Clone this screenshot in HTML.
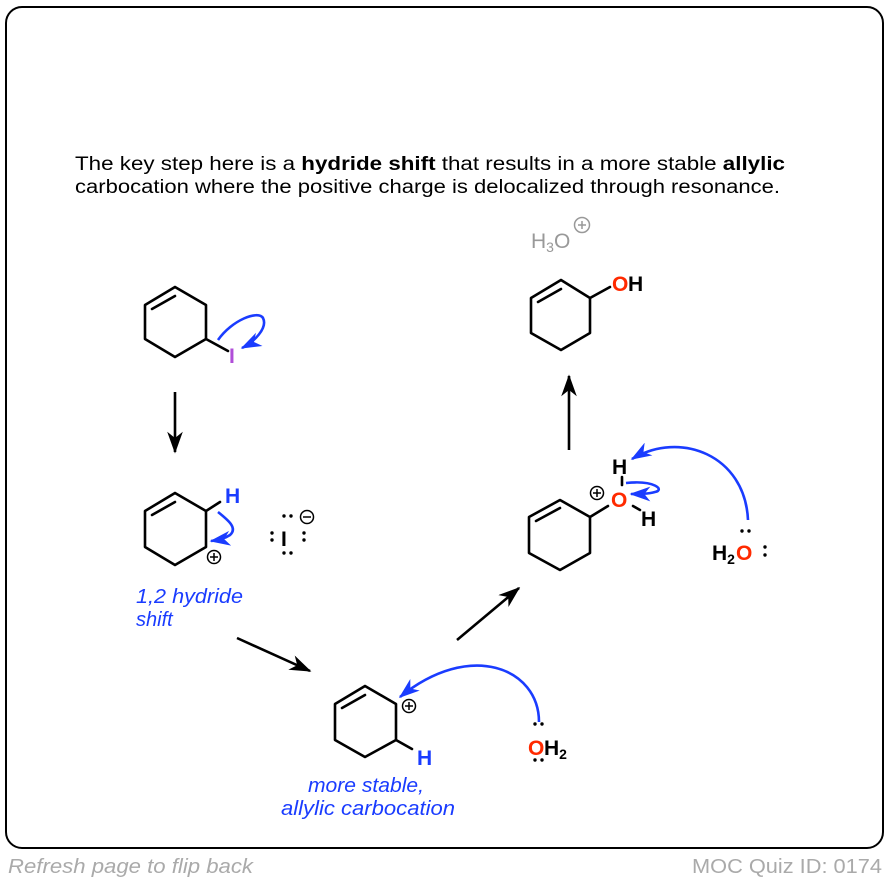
<!DOCTYPE html>
<html><head><meta charset="utf-8"><style>
html,body{margin:0;padding:0;background:#fff;}
svg{display:block;font-family:"Liberation Sans",Arial,sans-serif;}
</style></head><body>
<svg width="890" height="882" viewBox="0 0 890 882" xmlns="http://www.w3.org/2000/svg">
<defs>
<marker id="ah" viewBox="0 0 14 10" refX="13" refY="5" markerWidth="8.5" markerHeight="6" orient="auto" markerUnits="strokeWidth"><path d="M0,0 L14,5 L0,10 L4,5z" fill="#000"/></marker>
<marker id="bh" viewBox="0 0 14 10" refX="13" refY="5" markerWidth="8" markerHeight="5.8" orient="auto" markerUnits="strokeWidth"><path d="M0,0 L14,5 L0,10 L4,5z" fill="#1a3cff"/></marker>
</defs>
<rect x="6" y="7" width="877" height="841" rx="16" fill="none" stroke="#000" stroke-width="2"/>
<g font-size="19" fill="#000">
<text x="75" y="170" textLength="710" lengthAdjust="spacingAndGlyphs">The key step here is a <tspan font-weight="bold">hydride shift</tspan> that results in a more stable <tspan font-weight="bold">allylic</tspan></text>
<text x="75" y="193" textLength="705" lengthAdjust="spacingAndGlyphs">carbocation where the positive charge is delocalized through resonance.</text>
</g>
<g stroke="#000" stroke-width="2.6" fill="none" stroke-linejoin="round" stroke-linecap="round">
<path d="M175,287 L206,305 L206,339 L175,357 L145,339 L145,305 Z"/>
<path d="M152,309 L175,296"/>
<path d="M206,339 L228,351"/>
<path d="M175,493 L206,511 L206,547 L175,565 L145,547 L145,511 Z"/>
<path d="M152,515 L175,502"/>
<path d="M206,511 L220,502"/>
<path d="M365,686 L396,704 L396,740 L365,757 L335,740 L335,704 Z"/>
<path d="M342,708 L365,695"/>
<path d="M396,740 L412,749"/>
<path d="M560,500 L590,517 L590,553 L560,570 L529,553 L529,517 Z"/>
<path d="M536,521 L560,508"/>
<path d="M590,517 L608,506"/>
<path d="M622,477 L622,485"/>
<path d="M633,506 L640,510"/>
<path d="M561,280 L590,298 L590,333 L561,350 L531,333 L531,298 Z"/>
<path d="M538,302 L561,289"/>
<path d="M590,298 L610,287"/>
</g>
<g stroke="#000" stroke-width="2.6" fill="none">
<line x1="175" y1="392" x2="175" y2="452" marker-end="url(#ah)"/>
<line x1="237" y1="638" x2="310" y2="671" marker-end="url(#ah)"/>
<line x1="457" y1="640" x2="519" y2="588" marker-end="url(#ah)"/>
<line x1="569" y1="450" x2="569" y2="376" marker-end="url(#ah)"/>
</g>
<g stroke="#1a3cff" stroke-width="2.6" fill="none">
<path d="M218,340 C232,320 258,310 263,318 C268,328 254,342 242,348" marker-end="url(#bh)"/>
<path d="M218,512 C228,520 238,528 230,535 C224,539 218,540 211,541" marker-end="url(#bh)"/>
<path d="M539,722 C539,668 470,640 400,697" marker-end="url(#bh)"/>
<path d="M748,520 C745,455 680,430 632,459" marker-end="url(#bh)"/>
<path d="M626,483 C655,480 665,490 655,492 C648,494 640,494 631,494" marker-end="url(#bh)"/>
</g>
<g font-weight="bold" font-size="21">
<text x="229" y="363" fill="#b04ed8">I</text>
<text x="225" y="503" fill="#1a3cff">H</text>
<text x="281" y="546" fill="#000">I</text>
<text x="417" y="765" fill="#1a3cff">H</text>
<text x="528" y="755" fill="#ff2a00">O</text><text x="544" y="755" fill="#000">H<tspan font-size="14" dy="4">2</tspan></text>
<text x="612" y="474" fill="#000">H</text>
<text x="611" y="507" fill="#ff2a00">O</text>
<text x="641" y="526" fill="#000">H</text>
<text x="712" y="560" fill="#000">H<tspan font-size="14" dy="4">2</tspan></text>
<text x="736" y="560" fill="#ff2a00">O</text>
<text x="612" y="291" fill="#ff2a00">O</text><text x="628" y="291" fill="#000">H</text>
</g>
<text x="531" y="248" font-size="21" fill="#999">H<tspan font-size="14" dy="4">3</tspan><tspan dy="-4">O</tspan></text>
<g fill="#000">
<circle cx="272" cy="533" r="1.7"/><circle cx="272" cy="540" r="1.7"/>
<circle cx="304" cy="533" r="1.7"/><circle cx="304" cy="540" r="1.7"/>
<circle cx="284" cy="516" r="1.7"/><circle cx="291" cy="516" r="1.7"/>
<circle cx="284" cy="553" r="1.7"/><circle cx="291" cy="553" r="1.7"/>
<circle cx="535" cy="724" r="1.7"/><circle cx="542" cy="724" r="1.7"/>
<circle cx="535" cy="760" r="1.7"/><circle cx="542" cy="760" r="1.7"/>
<circle cx="742" cy="531" r="1.7"/><circle cx="749" cy="531" r="1.7"/>
<circle cx="765" cy="547" r="1.7"/><circle cx="765" cy="555" r="1.7"/>
</g>
<g fill="none" stroke="#000" stroke-width="1.5">
<circle cx="214" cy="557" r="6.5"/><path d="M210,557h8M214,553v8"/>
<circle cx="307" cy="517" r="6.5"/><path d="M303,517h8"/>
<circle cx="409" cy="706" r="6.5"/><path d="M405,706h8M409,702v8"/>
<circle cx="597" cy="493" r="6.5"/><path d="M593,493h8M597,489v8"/>
</g>
<g fill="none" stroke="#999" stroke-width="1.5">
<circle cx="582" cy="225" r="7.5"/><path d="M578,225h8M582,221v8"/>
</g>
<g font-style="italic" font-size="20" fill="#1a3cff">
<text x="136" y="603" textLength="107" lengthAdjust="spacingAndGlyphs">1,2 hydride</text>
<text x="136" y="626">shift</text>
<text x="308" y="792" textLength="116" lengthAdjust="spacingAndGlyphs">more stable,</text>
<text x="281" y="815" textLength="174" lengthAdjust="spacingAndGlyphs">allylic carbocation</text>
</g>
<text x="8" y="873" font-size="20" font-style="italic" fill="#aaa" textLength="245" lengthAdjust="spacingAndGlyphs">Refresh page to flip back</text>
<text x="692" y="873" font-size="20" fill="#aaa" textLength="190" lengthAdjust="spacingAndGlyphs">MOC Quiz ID: 0174</text>
</svg>
</body></html>
